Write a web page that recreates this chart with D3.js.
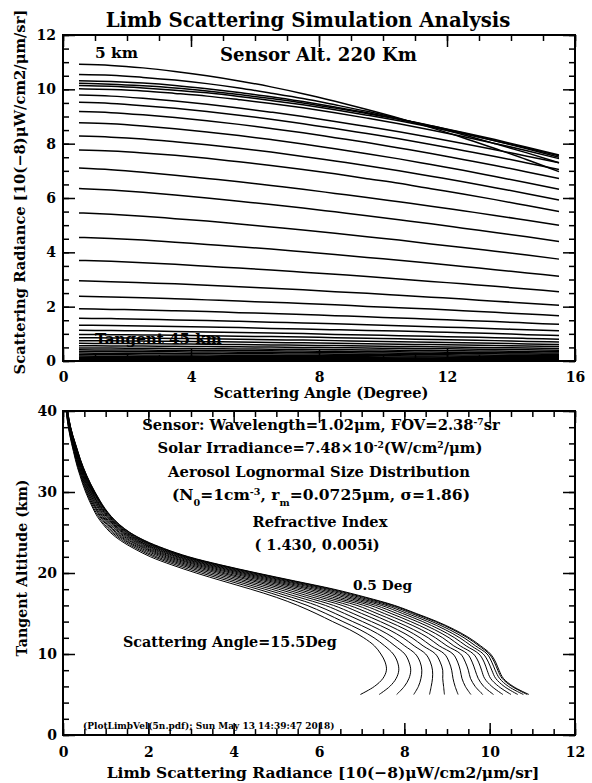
<!DOCTYPE html>
<html><head><meta charset="utf-8">
<script src="https://cdn.jsdelivr.net/npm/d3@7"></script>
<style>
body{margin:0;background:#fff;}
svg{display:block;background:#fff;}
text{font-family:"DejaVu Serif",serif;font-weight:bold;fill:#000;}
</style></head><body>
<svg id="c" width="592" height="783"></svg>
<script>
// ---------------- data ----------------
const angles = [0.5,1.5,2.5,3.5,4.5,5.5,6.5,7.5,8.5,9.5,10.5,11.5,12.5,13.5,14.5,15.5];
const altitudes = [5,6,7,8,9,10,11,12,13,14,15,16,17,18,19,20,21,22,23,24,25,26,27,28,29,30,31,32,33,34,35,36,37,38,39,40,41,42,43,44,45];
// radiance [10^-8 uW/cm2/um/sr] at each scattering angle, per tangent altitude
const r05 = [10.92,10.88,10.79,10.66,10.50,10.31,10.09,9.84,9.56,9.26,8.94,8.59,8.22,7.82,7.41,6.97];
const r06 = [10.55,10.52,10.44,10.34,10.21,10.05,9.86,9.66,9.43,9.19,8.92,8.63,8.33,8.00,7.66,7.30];
const r07 = [10.32,10.29,10.23,10.14,10.02,9.88,9.73,9.55,9.35,9.14,8.90,8.66,8.39,8.11,7.81,7.50];
const r08 = [10.22,10.19,10.13,10.05,9.94,9.81,9.66,9.50,9.31,9.11,8.90,8.66,8.41,8.15,7.87,7.58];
const r09 = [10.14,10.11,10.05,9.97,9.87,9.74,9.59,9.43,9.25,9.05,8.84,8.61,8.37,8.11,7.84,7.55];
const r10 = [10.02,9.99,9.94,9.85,9.75,9.62,9.48,9.32,9.14,8.94,8.73,8.50,8.26,8.01,7.74,7.45];
const r11 = [9.79,9.75,9.67,9.57,9.45,9.31,9.16,9.00,8.82,8.63,8.44,8.23,8.01,7.78,7.54,7.30];
const r12 = [9.52,9.48,9.40,9.30,9.18,9.05,8.90,8.73,8.56,8.37,8.18,7.97,7.75,7.53,7.29,7.05];
const r13 = [9.18,9.14,9.06,8.96,8.84,8.71,8.56,8.40,8.22,8.04,7.84,7.64,7.42,7.20,6.96,6.72];
const r14 = [8.77,8.73,8.65,8.55,8.43,8.30,8.15,7.99,7.81,7.63,7.44,7.23,7.02,6.79,6.56,6.32];
const r15 = [8.28,8.24,8.17,8.07,7.96,7.83,7.69,7.53,7.36,7.19,7.00,6.80,6.60,6.38,6.16,5.93];
const r16 = [7.77,7.73,7.66,7.57,7.46,7.33,7.20,7.05,6.89,6.71,6.54,6.34,6.15,5.94,5.72,5.50];
const r17 = [7.10,7.04,6.95,6.84,6.72,6.60,6.46,6.32,6.17,6.02,5.86,5.70,5.53,5.36,5.18,5.00];
const r18 = [6.35,6.29,6.21,6.11,6.00,5.88,5.76,5.63,5.49,5.35,5.20,5.05,4.89,4.73,4.57,4.40];
const r19 = [5.45,5.40,5.33,5.24,5.15,5.04,4.93,4.82,4.70,4.57,4.45,4.31,4.18,4.04,3.90,3.75];
const r20 = [4.55,4.51,4.45,4.37,4.29,4.21,4.12,4.02,3.92,3.81,3.71,3.60,3.48,3.36,3.24,3.12];
const r21 = [3.70,3.67,3.62,3.56,3.49,3.42,3.35,3.27,3.19,3.11,3.02,2.93,2.84,2.75,2.65,2.55];
const r22 = [2.95,2.92,2.88,2.84,2.79,2.73,2.68,2.62,2.55,2.49,2.42,2.35,2.28,2.20,2.13,2.05];
const r23 = [2.38,2.36,2.33,2.29,2.25,2.21,2.16,2.12,2.07,2.01,1.96,1.91,1.85,1.79,1.73,1.67];
const r24 = [1.92,1.90,1.88,1.85,1.82,1.78,1.75,1.71,1.67,1.63,1.58,1.54,1.49,1.45,1.40,1.35];
const r25 = [1.57,1.56,1.54,1.51,1.49,1.46,1.43,1.40,1.37,1.33,1.30,1.26,1.23,1.19,1.15,1.11];
const r26 = [1.32,1.31,1.29,1.27,1.25,1.23,1.20,1.18,1.15,1.12,1.10,1.07,1.04,1.01,0.97,0.94];
const r27 = [1.13,1.12,1.11,1.09,1.07,1.05,1.03,1.01,0.98,0.96,0.93,0.91,0.88,0.86,0.83,0.80];
const r28 = [0.98,0.97,0.96,0.95,0.93,0.91,0.90,0.88,0.86,0.84,0.82,0.79,0.77,0.75,0.72,0.70];
const r29 = [0.86,0.85,0.84,0.83,0.82,0.80,0.78,0.77,0.75,0.73,0.71,0.69,0.67,0.65,0.63,0.61];
const r30 = [0.750,0.743,0.734,0.723,0.711,0.697,0.683,0.668,0.653,0.637,0.620,0.603,0.585,0.567,0.549,0.530];
const r31 = [0.650,0.644,0.636,0.627,0.616,0.604,0.592,0.580,0.566,0.552,0.538,0.523,0.508,0.492,0.476,0.460];
const r32 = [0.560,0.555,0.548,0.540,0.531,0.522,0.511,0.501,0.489,0.478,0.466,0.453,0.440,0.427,0.414,0.400];
const r33 = [0.480,0.476,0.470,0.463,0.455,0.446,0.437,0.428,0.418,0.408,0.397,0.387,0.375,0.364,0.352,0.340];
const r34 = [0.410,0.406,0.401,0.395,0.389,0.381,0.374,0.366,0.357,0.348,0.339,0.330,0.320,0.310,0.300,0.290];
const r35 = [0.350,0.347,0.342,0.337,0.331,0.325,0.318,0.311,0.304,0.296,0.288,0.280,0.272,0.263,0.254,0.245];
const r36 = [0.290,0.287,0.283,0.279,0.274,0.268,0.263,0.257,0.250,0.244,0.237,0.230,0.223,0.215,0.208,0.200];
const r37 = [0.230,0.228,0.225,0.221,0.217,0.213,0.209,0.204,0.199,0.194,0.189,0.183,0.178,0.172,0.166,0.160];
const r38 = [0.180,0.178,0.176,0.173,0.170,0.167,0.163,0.160,0.156,0.152,0.148,0.143,0.139,0.134,0.130,0.125];
const r39 = [0.140,0.139,0.137,0.135,0.132,0.130,0.127,0.124,0.121,0.118,0.115,0.112,0.108,0.104,0.101,0.097];
const r40 = [0.110,0.109,0.108,0.106,0.104,0.102,0.100,0.097,0.095,0.092,0.090,0.087,0.085,0.082,0.079,0.076];
const r41 = [0.085,0.084,0.083,0.082,0.080,0.079,0.077,0.075,0.074,0.072,0.070,0.068,0.066,0.063,0.061,0.059];
const r42 = [0.065,0.064,0.064,0.063,0.061,0.060,0.059,0.058,0.056,0.055,0.053,0.052,0.050,0.048,0.047,0.045];
const r43 = [0.050,0.050,0.049,0.048,0.047,0.046,0.045,0.044,0.043,0.042,0.041,0.040,0.039,0.038,0.036,0.035];
const r44 = [0.038,0.038,0.037,0.037,0.036,0.035,0.035,0.034,0.033,0.032,0.032,0.031,0.030,0.029,0.028,0.027];
const r45 = [0.030,0.030,0.029,0.029,0.028,0.028,0.027,0.027,0.026,0.025,0.025,0.024,0.023,0.023,0.022,0.021];
const radianceByAlt = [r05,r06,r07,r08,r09,r10,r11,r12,r13,r14,r15,r16,r17,r18,r19,r20,r21,r22,r23,r24,r25,
  r26,r27,r28,r29,r30,r31,r32,r33,r34,r35,r36,r37,r38,r39,r40,r41,r42,r43,r44,r45];

const topXTicks = [0,4,8,12,16];
const topYTicks = [0,2,4,6,8,10,12];
const botXTicks = [0,2,4,6,8,10,12];
const botYTicks = [0,10,20,30,40];

// ---------------- layout ----------------
const svg = d3.select('#c');
const L = 63, R = 575;
const xT = d3.scaleLinear().domain([0,16]).range([L,R]);
const yT = d3.scaleLinear().domain([0,12]).range([361,35]);
const xB = d3.scaleLinear().domain([0,12]).range([L,R]);
const yB = d3.scaleLinear().domain([0,40]).range([735,411]);

svg.append('defs').append('clipPath').attr('id','clipB')
  .append('rect').attr('x',L).attr('y',411).attr('width',R-L).attr('height',324);

// top panel curves: one per tangent altitude
const lineT = d3.line().x((d,i)=>xT(angles[i])).y(d=>yT(d)).curve(d3.curveMonotoneX);
svg.append('g').selectAll('path').data(radianceByAlt).join('path')
  .attr('d', lineT).attr('fill','none').attr('stroke','#000').attr('stroke-width',1.5);

// bottom panel curves: one per scattering angle
const curves = angles.map((a,k)=>altitudes.map((h,j)=>({r: radianceByAlt[j][k], h})));
const lineB = d3.line().x(d=>xB(d.r)).y(d=>yB(d.h)).curve(d3.curveCatmullRom);
svg.append('g').attr('clip-path','url(#clipB)').selectAll('path').data(curves).join('path')
  .attr('d', lineB).attr('fill','none').attr('stroke','#000').attr('stroke-width',1);

// ---------------- axes ----------------
function frame(x, y, xMaj, xMinStep, yMaj, yMinStep, padX, padY){
  const [x0,x1] = x.range(), [y0,y1] = y.range();
  const xMin = d3.range(x.domain()[0], x.domain()[1]+1e-9, xMinStep);
  const yMin = d3.range(y.domain()[0], y.domain()[1]+1e-9, yMinStep);
  const st = g => { g.select('.domain').remove(); g.selectAll('line').attr('stroke','#000').attr('stroke-width',1.5);
    g.selectAll('text').attr('font-size',14).attr('font-family','"DejaVu Serif",serif').attr('font-weight','bold'); };
  svg.append('g').attr('transform',`translate(0,${y0})`).call(d3.axisBottom(x).tickValues(xMin).tickSize(-6).tickFormat('')).call(st);
  svg.append('g').attr('transform',`translate(0,${y0})`).call(d3.axisBottom(x).tickValues(xMaj).tickSize(-12).tickPadding(padX).tickFormat(d3.format('d'))).call(st);
  svg.append('g').attr('transform',`translate(0,${y1})`).call(d3.axisTop(x).tickValues(xMin).tickSize(-6).tickFormat('')).call(st);
  svg.append('g').attr('transform',`translate(0,${y1})`).call(d3.axisTop(x).tickValues(xMaj).tickSize(-12).tickFormat('')).call(st);
  svg.append('g').attr('transform',`translate(${x0},0)`).call(d3.axisLeft(y).tickValues(yMin).tickSize(-6).tickFormat('')).call(st);
  svg.append('g').attr('transform',`translate(${x0},0)`).call(d3.axisLeft(y).tickValues(yMaj).tickSize(-12).tickPadding(padY).tickFormat(d3.format('d'))).call(st);
  svg.append('g').attr('transform',`translate(${x1},0)`).call(d3.axisRight(y).tickValues(yMin).tickSize(-6).tickFormat('')).call(st);
  svg.append('g').attr('transform',`translate(${x1},0)`).call(d3.axisRight(y).tickValues(yMaj).tickSize(-12).tickFormat('')).call(st);
  svg.append('rect').attr('x',x0).attr('y',y1).attr('width',x1-x0).attr('height',y0-y1)
    .attr('fill','none').attr('stroke','#000').attr('stroke-width',2);
}
frame(xT, yT, topXTicks, 1, topYTicks, 0.5, 11, 7);
frame(xB, yB, botXTicks, 0.5, botYTicks, 2, 12, 6);

// ---------------- text ----------------
function label(o){
  const t = svg.append('text').attr('x',o.x).attr('y',o.y).attr('text-anchor',o.anchor||'middle').attr('font-size',o.size);
  if (o.rotate) t.attr('transform',`rotate(${o.rotate},${o.x},${o.y})`);
  o.parts.forEach(p=>{
    const s = t.append('tspan').text(p[0]);
    if (p[1]==='sup') s.attr('font-size','62%').attr('baseline-shift','super');
    if (p[1]==='sub') s.attr('font-size','62%').attr('baseline-shift','sub');
  });
  if (o.width){ const w = t.node().getComputedTextLength(); t.attr('font-size', o.size*o.width/w); }
  return t;
}
label({x:308,y:27,size:18,width:405,parts:[['Limb Scattering Simulation Analysis']]});
label({x:95,y:58,anchor:'start',size:13,width:43,parts:[['5 km']]});
label({x:220,y:61,anchor:'start',size:15,width:197,parts:[['Sensor Alt. 220 Km']]});
label({x:95,y:344,anchor:'start',size:13,width:127,parts:[['Tangent 45 km']]});
label({x:25,y:192,size:13,width:365,rotate:-90,parts:[['Scattering Radiance [10(−8)μW/cm2/μm/sr]']]});
label({x:321,y:398,size:13,width:215,parts:[['Scattering Angle (Degree)']]});

label({x:321,y:430,size:13,width:358,parts:[['Sensor: Wavelength=1.02μm, FOV=2.38'],['-7','sup'],['sr']]});
label({x:320,y:453,size:13,width:325,parts:[['Solar Irradiance=7.48×10'],['-2','sup'],['(W/cm'],['2','sup'],['/μm)']]});
label({x:319,y:477,size:13,width:302,parts:[['Aerosol Lognormal Size Distribution']]});
label({x:321,y:500,size:13,width:298,parts:[['(N'],['0','sub'],['=1cm'],['-3','sup'],[', r'],['m','sub'],['=0.0725μm, σ=1.86)']]});
label({x:320,y:527,size:13,width:135,parts:[['Refractive Index']]});
label({x:317,y:550,size:14.5,parts:[['( 1.430, 0.005i)']]});
label({x:353,y:590,anchor:'start',size:13,width:59,parts:[['0.5 Deg']]});
label({x:123,y:647,anchor:'start',size:13,width:214,parts:[['Scattering Angle=15.5Deg']]});
label({x:83,y:729,anchor:'start',size:8,width:252,parts:[['(PlotLimbVel(5n.pdf); Sun May 13 14:39:47 2018)']]});
label({x:27,y:568,size:13,width:177,rotate:-90,parts:[['Tangent Altitude (km)']]});
label({x:323,y:778,size:13,width:433,parts:[['Limb Scattering Radiance [10(−8)μW/cm2/μm/sr]']]});
</script>
</body></html>
